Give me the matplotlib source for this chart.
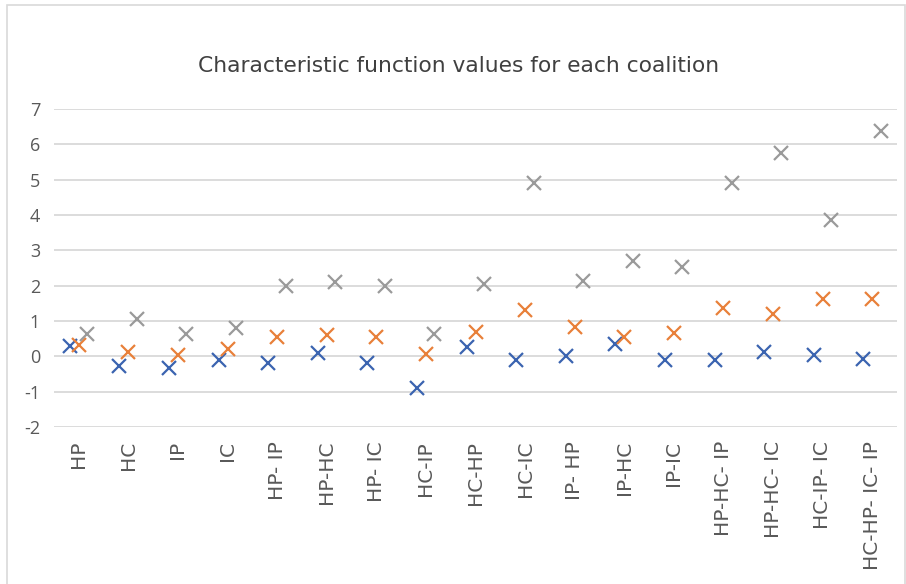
import numpy as np
import matplotlib
matplotlib.use("Agg")
import matplotlib.pyplot as plt
from matplotlib.patches import Rectangle

# Coalitions on the x axis
coalitions = ["HP", "HC", "IP", "IC", "HP- IP", "HP-HC", "HP- IC", "HC-IP",
              "HC-HP", "HC-IC", "IP- HP", "IP-HC", "IP-IC", "HP-HC- IP",
              "HP-HC- IC", "HC-IP- IC", "HC-HP- IC- IP"]

# Characteristic function values, three series
series_blue = [0.28, -0.28, -0.33, -0.11, -0.19, 0.09, -0.19, -0.91, 0.26,
               -0.09, 0.00, 0.36, -0.11, -0.09, 0.12, 0.03, -0.07]
series_orange = [0.31, 0.12, 0.03, 0.22, 0.55, 0.59, 0.55, 0.08, 0.69,
                 1.32, 0.83, 0.55, 0.66, 1.38, 1.19, 1.63, 1.63]
series_gray = [0.64, 1.07, 0.64, 0.80, 1.98, 2.10, 1.98, 0.64, 2.05,
               4.90, 2.12, 2.70, 2.54, 4.90, 5.75, 3.86, 6.37]

plt.rcParams["font.family"] = ["Open Sans", "DejaVu Sans"]
plt.rcParams["axes.unicode_minus"] = False

fig = plt.figure(figsize=(9.06, 5.84), dpi=100)
fig.patch.set_facecolor("white")

# chart area border
fig.patches.append(Rectangle((7 / 906, -0.05), 898 / 906, 1.05 - 5 / 584,
                             transform=fig.transFigure, fill=False,
                             edgecolor="#D9D9D9", linewidth=1.2))

ax = fig.add_axes([54 / 906, 1 - 427 / 584, 843 / 906, 318 / 584])

x = np.arange(len(coalitions))
ms = 10
mew = 1.6
ax.plot(x - 0.18, series_blue, "x", color="#3B64B0", markersize=ms, markeredgewidth=mew, zorder=3)
ax.plot(x, series_orange, "x", color="#E8803A", markersize=ms, markeredgewidth=mew, zorder=3)
ax.plot(x + 0.17, series_gray, "x", color="#9A9A9A", markersize=ms, markeredgewidth=mew, zorder=3)

ax.set_xlim(-0.5, len(coalitions) - 0.5)
ax.set_ylim(-2, 7)
ax.set_yticks(range(-2, 8))
ax.yaxis.grid(True, color="#D9D9D9", linewidth=1.3)
ax.set_axisbelow(True)
for s in ax.spines.values():
    s.set_visible(False)

ax.set_xticks(x)
ax.set_xticklabels(coalitions, rotation=90, fontsize=14.5, color="#595959",
                   va="top", ha="center", family="DejaVu Sans")
ax.tick_params(axis="both", length=0)
ax.tick_params(axis="x", pad=10)
ax.tick_params(axis="y", pad=10, labelsize=13, labelcolor="#595959")

fig.text(459 / 906, 1 - 66 / 584, "Characteristic function values for each coalition",
         ha="center", va="center", fontsize=15.7, color="#404040",
         family="DejaVu Sans")

fig.savefig("out.png", dpi=100)
